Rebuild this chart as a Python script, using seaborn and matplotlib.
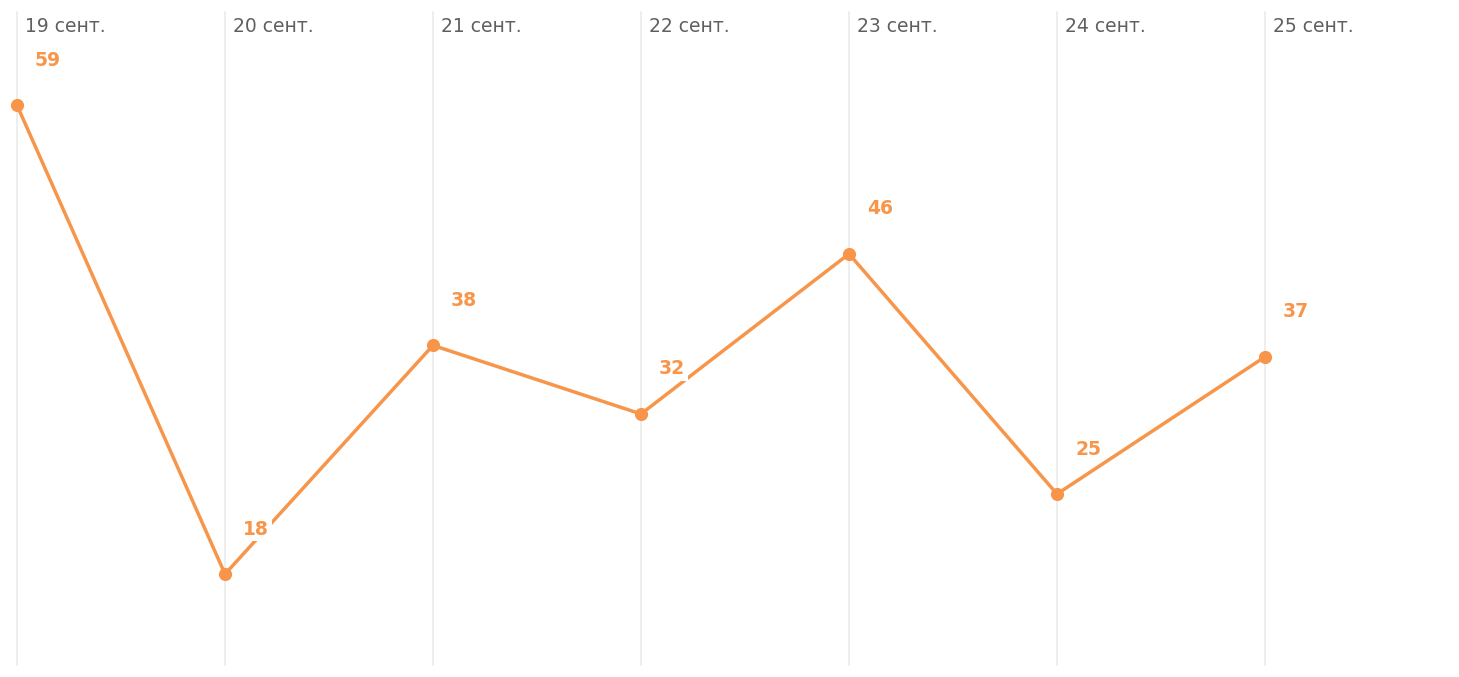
import matplotlib
matplotlib.use("Agg")
import matplotlib.pyplot as plt
import seaborn as sns
import pandas as pd

# Values
dates = ["19 сент.", "20 сент.", "21 сент.", "22 сент.", "23 сент.", "24 сент.", "25 сент."]
values = [59, 18, 38, 32, 46, 25, 37]

orange = "#f7964a"
grid_color = "#eeeeee"
date_color = "#606060"

sns.set_style("white")
plt.rcParams["font.family"] = ["DejaVu Sans"]

data = pd.DataFrame({"pos": range(len(dates)), "value": values})

fig = plt.figure(figsize=(14.59, 6.77), dpi=100)
ax = fig.add_axes([0, 0, 1, 1])

# vertical day separators
for i in data["pos"]:
    ax.axvline(i, ymin=0.018, ymax=0.982, color=grid_color, lw=1.4, zorder=0)

sns.lineplot(data=data, x="pos", y="value", ax=ax, color=orange, lw=2.5,
             marker="o", markersize=9.5, markeredgewidth=0, zorder=3)

for i, (d, v) in enumerate(zip(dates, values)):
    ax.annotate(d, xy=(i, 1), xycoords=("data", "axes fraction"),
                xytext=(8, -26), textcoords="offset pixels",
                ha="left", va="center", fontsize=13.5, color=date_color)
    ax.annotate(str(v), xy=(i, v), xytext=(18, 45), textcoords="offset pixels",
                ha="left", va="center", fontsize=13.5, fontweight="bold", color=orange,
                bbox=dict(boxstyle="square,pad=0.15", fc="white", ec="none"), zorder=4)

ax.set_xlim(-17 / 208, (1459 - 17) / 208)
ax.set_ylim(9.0, 68.2)
ax.set_xlabel("")
ax.set_ylabel("")
ax.set_xticks([])
ax.set_yticks([])
sns.despine(ax=ax, left=True, bottom=True)

fig.savefig("out.png", dpi=100)
